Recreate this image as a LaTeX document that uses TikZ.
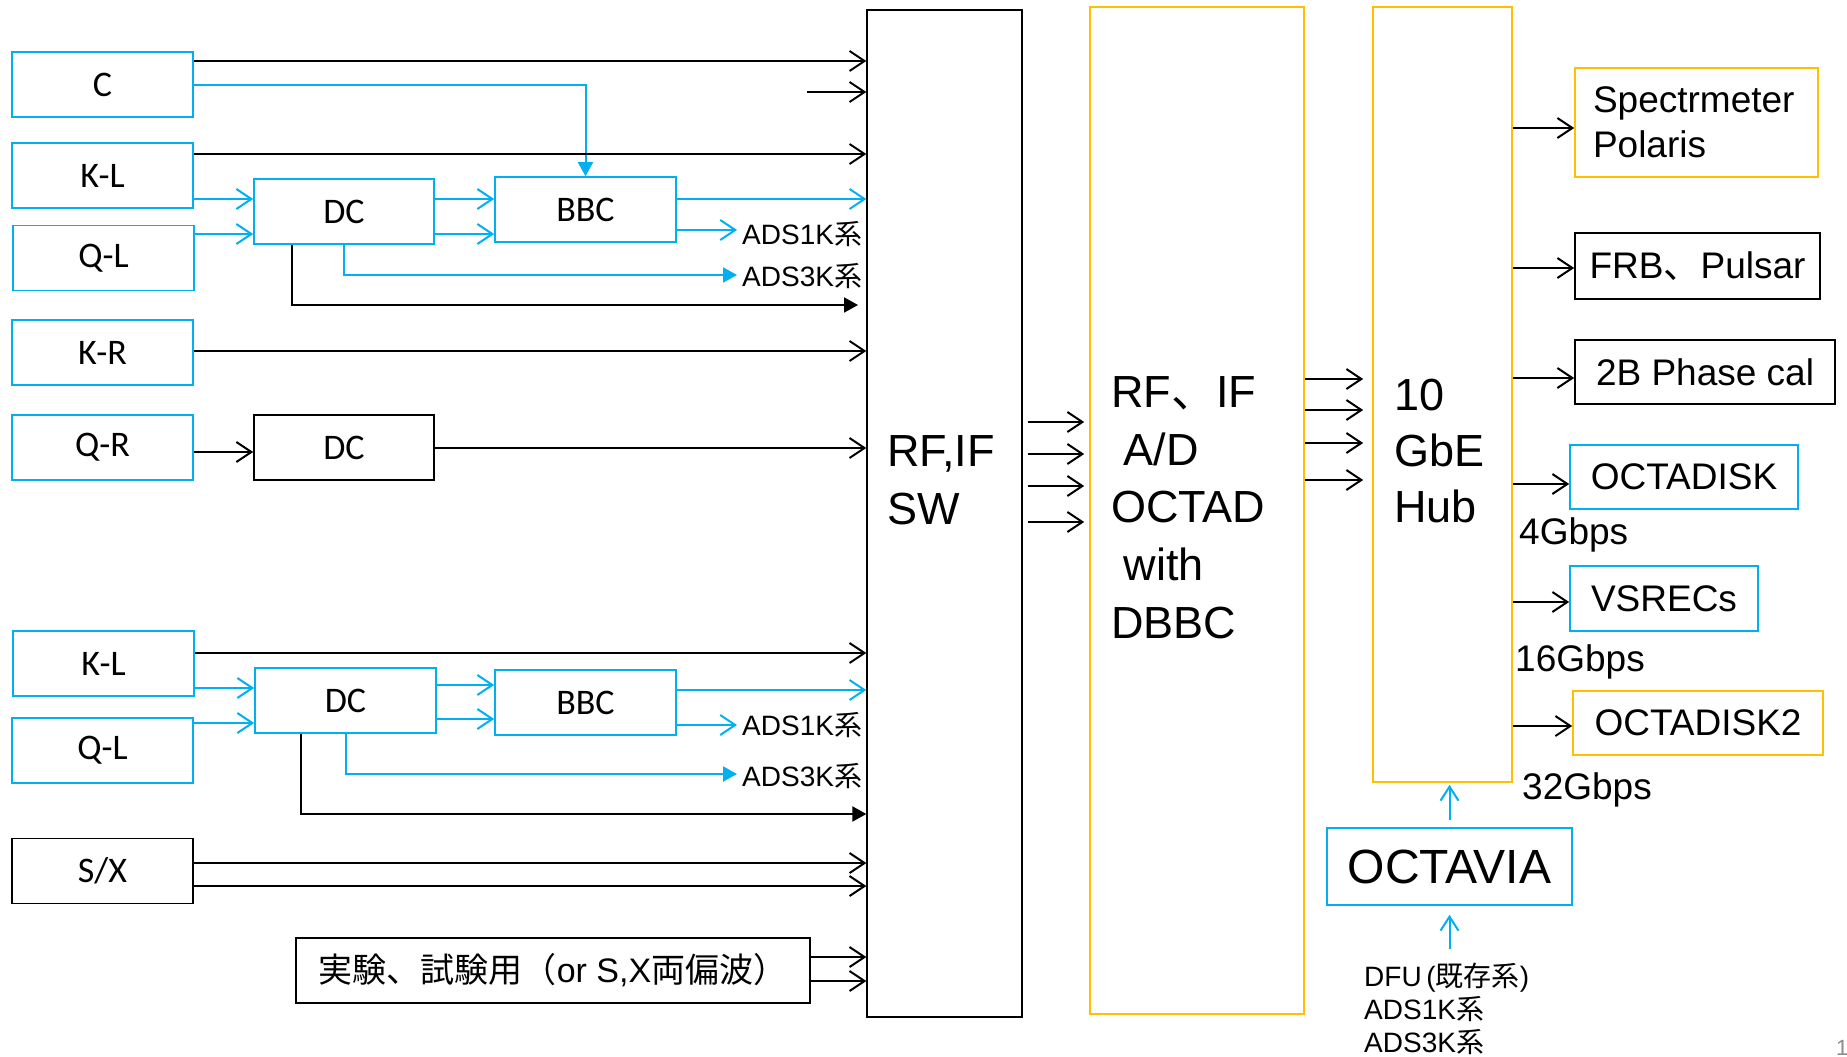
\documentclass[tikz,border=0pt]{standalone}
\usepackage{fontspec}
\setmainfont{Liberation Sans}
\newfontfamily\cjk{Noto Sans CJK JP}
\newfontfamily\calfont{Carlito}
\usetikzlibrary{arrows.meta}
\definecolor{pblue}{HTML}{00B0F0}
\definecolor{porange}{HTML}{FFC000}
\newcommand\setfs[2]{\fontsize{#1}{#2}\selectfont}
\begin{document}
\begin{tikzpicture}[x=1pt,y=-1pt,
  boxb/.style={draw=pblue, line width=1.6pt, inner sep=0pt, minimum width=181pt, minimum height=65pt, font=\calfont\setfs{36}{40}},
  boxk/.style={boxb, draw=black},
  rbox/.style={line width=1.6pt, inner sep=0pt, font=\setfs{37}{40}},
  arr/.style={line width=2pt, -{Straight Barb[length=15pt,width=20pt]}},
  barr/.style={arr, draw=pblue},
  barrtwo/.style={line width=2pt, draw=pblue, -{Straight Barb[length=14pt,width=18pt]}},
  tarr/.style={line width=2pt, -{Triangle[length=14pt,width=15pt]}},
  btarr/.style={tarr, draw=pblue},
  lab/.style={font=\setfs{28}{32}, inner xsep=5pt, inner ysep=0pt, anchor=west},
  big/.style={font=\setfs{45}{57.75}, align=left, inner sep=0pt, anchor=west},
  gbps/.style={font=\setfs{37}{40}, anchor=west, inner sep=0pt}
]
\fill[white] (0,0) rectangle (1847,1057);
\useasboundingbox (0,0) rectangle (1847,1057);

% ---------- left column ----------
\node[boxb] (C)   at (102.5,84.5)  {C};
\node[boxb] (KL1) at (102.5,175.5) {K-L};
\node[boxb] (QL1) at (103.5,258)   {Q-L};
\node[boxb] (KR)  at (102.5,352.5) {K-R};
\node[boxb] (QR)  at (102.5,447.5) {Q-R};
\node[boxb] (KL2) at (103.5,663.5) {K-L};
\node[boxb] (QL2) at (102.5,750.5) {Q-L};
\node[boxk] (SX)  at (102.5,871)   {S/X};

\node[boxb, minimum width=180pt] (DC1)  at (344,211.5)   {DC};
\node[boxb]                      (BBC1) at (585.5,209.5) {BBC};
\node[boxk, minimum width=180pt] (DC2)  at (344,447.5)   {DC};
\node[boxb]                      (DC3)  at (345.5,700.5) {DC};
\node[boxb]                      (BBC2) at (585.5,702.5) {BBC};
\node[boxk, minimum width=514pt, font=\setfs{34}{36}] (EXP) at (553,970.5)
  {{\cjk 実験、試験用（}or S,X{\cjk 両偏波）}};

% ---------- big columns ----------
\node[draw=black, line width=1.3pt, minimum width=155pt, minimum height=1007pt, inner sep=0pt] (SW) at (944.5,513.5) {};
\node[draw=porange, line width=1.6pt, minimum width=214pt, minimum height=1007pt, inner sep=0pt] (AD) at (1197,510.5) {};
\node[draw=porange, line width=1.6pt, minimum width=139pt, minimum height=775pt, inner sep=0pt] (HUB) at (1442.5,394.5) {};

\node[big] (SWT) at (887,480) {RF,IF\\SW};
\node[big] (ADT) at (1111,507.5) {RF{\cjk 、}IF\\\ A/D\\OCTAD\\\ with\\DBBC};
\node[big, font=\setfs{45}{56}] (HT) at (1394,451) {10\\GbE\\Hub};

% ---------- right column ----------
\node[rbox, draw=porange, minimum width=243pt, minimum height=109pt, text width=207pt, align=left, font=\setfs{37}{45}] (SPEC) at (1696.5,122.5) {Spectrmeter\\Polaris};
\node[rbox, draw=black, minimum width=245pt, minimum height=66pt] (FRB) at (1697.5,266) {FRB{\cjk 、}Pulsar};
\node[rbox, draw=black, minimum width=260pt, minimum height=64pt] (PH) at (1705,372) {2B Phase cal};
\node[rbox, draw=pblue, minimum width=228pt, minimum height=64pt] (ODK) at (1684,477) {OCTADISK};
\node[rbox, draw=pblue, minimum width=188pt, minimum height=65pt] (VS) at (1664,598.5) {VSRECs};
\node[rbox, draw=porange, minimum width=250pt, minimum height=64pt] (ODK2) at (1698,723) {OCTADISK2};
\node[rbox, draw=pblue, minimum width=245pt, minimum height=77pt, font=\setfs{48}{50}] (OCTAVIA) at (1449.5,866.5) {OCTAVIA};

\node[gbps] (G4)  at (1519,535) {4Gbps};
\node[gbps] (G16) at (1515,662) {16Gbps};
\node[gbps] (G32) at (1522,790) {32Gbps};

\node[font=\setfs{28}{33}, align=left, anchor=north west, inner sep=0pt] (DFU) at (1364,963)
  {DFU\,({\cjk 既存系})\\ADS1K{\cjk 系}\\ADS3K{\cjk 系}};

\node[text=black!45, font=\setfs{22}{24}, anchor=base west, inner sep=0pt] (PG) at (1836,1055) {1};

% ---------- ADS labels ----------
\node[lab] (ADS1a) at (737,234.5) {ADS1K{\cjk 系}};
\node[lab] (ADS3a) at (737,276)   {ADS3K{\cjk 系}};
\node[lab] (ADS1b) at (737,725)   {ADS1K{\cjk 系}};
\node[lab] (ADS3b) at (737,776)   {ADS3K{\cjk 系}};

% ---------- upper group connectors ----------
\draw[arr] (C.east |- 0,61) -- (SW.west |- 0,61);
\coordinate (s1) at (807,92);
\draw[arr] (s1) -- (SW.west |- s1);
\draw[btarr] (C.east) -| (BBC1.north);
\draw[arr] (KL1.east |- 0,154) -- (SW.west |- 0,154);
\draw[barr] (KL1.east |- 0,199) -- (DC1.west |- 0,199);
\draw[barr] (QL1.east |- 0,234) -- (DC1.west |- 0,234);
\draw[barr] (DC1.east |- 0,199) -- (BBC1.west |- 0,199);
\draw[barr] (DC1.east |- 0,234) -- (BBC1.west |- 0,234);
\draw[barr] (BBC1.east |- 0,199) -- (SW.west |- 0,199);
\draw[barr] (BBC1.east |- 0,230) -- (ADS1a.west |- 0,230);
\draw[btarr] (DC1.south) |- (ADS3a.west |- 0,275);
\coordinate (e1) at (858,305);
\draw[tarr] (DC1.south -| 292,0) |- (e1);
\draw[arr] (KR.east |- 0,351) -- (SW.west |- 0,351);
\draw[arr] (QR.east |- 0,452) -- (DC2.west |- 0,452);
\draw[arr] (DC2.east |- 0,448) -- (SW.west |- 0,448);

% ---------- lower group connectors ----------
\draw[arr] (KL2.east |- 0,653) -- (SW.west |- 0,653);
\draw[barr] (KL2.east |- 0,688) -- (DC3.west |- 0,688);
\draw[barr] (QL2.east |- 0,723) -- (DC3.west |- 0,723);
\draw[barr] (DC3.east |- 0,685) -- (BBC2.west |- 0,685);
\draw[barr] (DC3.east |- 0,719) -- (BBC2.west |- 0,719);
\draw[barr] (BBC2.east |- 0,690) -- (SW.west |- 0,690);
\draw[barr] (BBC2.east |- 0,725) -- (ADS1b.west |- 0,725);
\draw[btarr] (DC3.south) |- (ADS3b.west |- 0,774);
\draw[tarr] (DC3.south -| 301,0) |- (SW.west |- 0,814);
\draw[arr] (SX.east |- 0,863) -- (SW.west |- 0,863);
\draw[arr] (SX.east |- 0,886) -- (SW.west |- 0,886);
\draw[arr] (EXP.east |- 0,957) -- (SW.west |- 0,957);
\draw[arr] (EXP.east |- 0,981) -- (SW.west |- 0,981);

% ---------- middle connectors ----------
\foreach \y in {422,454,486,522}
  \draw[arr, shorten <=5pt, shorten >=5pt] (SW.east |- 0,\y) -- (AD.west |- 0,\y);
\foreach \y in {379,410,443,480}
  \draw[arr, shorten >=9pt] (AD.east |- 0,\y) -- (HUB.west |- 0,\y);

% ---------- hub outputs ----------
\draw[arr] (HUB.east |- 0,128) -- (SPEC.west |- 0,128);
\draw[arr] (HUB.east |- 0,268) -- (FRB.west |- 0,268);
\draw[arr] (HUB.east |- 0,378) -- (PH.west |- 0,378);
\draw[arr] (HUB.east |- 0,484) -- (ODK.west |- 0,484);
\draw[arr] (HUB.east |- 0,602) -- (VS.west |- 0,602);
\draw[arr] (HUB.east |- 0,726) -- (ODK2.west |- 0,726);

% ---------- OCTAVIA ----------
\draw[barrtwo, shorten >=2pt] ([yshift=7pt]OCTAVIA.north) -- (HUB.south -| OCTAVIA.north);
\coordinate (dfuin) at (1449.5,949);
\draw[barrtwo, shorten >=9pt] (dfuin) -- (OCTAVIA.south);
\end{tikzpicture}
\end{document}
